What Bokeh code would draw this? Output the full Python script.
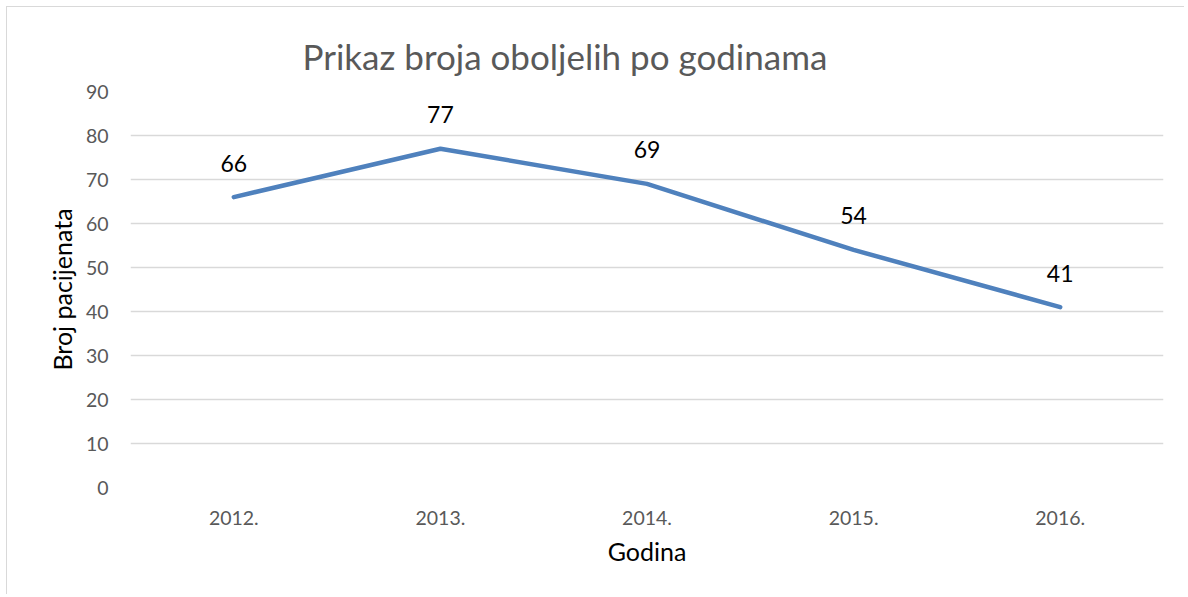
from bokeh.plotting import figure
from bokeh.models import ColumnDataSource, Title
from bokeh.embed import file_html
from bokeh.resources import INLINE
from bokeh.core.properties import value

years = ["2012.", "2013.", "2014.", "2015.", "2016."]
patients = [66, 77, 69, 54, 41]
title_text = "Prikaz broja oboljelih po godinama"
x_title = "Godina"
y_title = "Broj pacijenata"

FONT = "Lato"
W, H = 1178, 588

src = ColumnDataSource(dict(x=years, y=patients, lbl=[str(v) for v in patients]))

p = figure(x_range=years, y_range=(0, 90), width=W, height=H,
           output_backend="svg", toolbar_location=None,
           min_border_left=123, min_border_right=22, min_border_top=84, min_border_bottom=108)
p.styles = {"margin-left": "6px", "margin-top": "6px",
            "border-left": "1px solid #d9d9d9", "border-top": "1px solid #d9d9d9"}
p.outline_line_color = None
p.background_fill_color = "white"
p.border_fill_color = "white"

p.line("x", "y", source=src, line_color="#4F81BD", line_width=4.5, line_join="round", line_cap="round")
p.text("x", "y", text="lbl", source=src, text_font=value(FONT), text_font_size="23px",
       text_color="black", text_align="center", text_baseline="alphabetic", y_offset=-34)

p.yaxis.ticker = list(range(0, 91, 10))
p.ygrid.ticker = list(range(0, 91, 10))
p.xgrid.grid_line_color = None
p.ygrid.grid_line_color = "#d9d9d9"
p.ygrid.grid_line_width = 1.5

for ax in (p.xaxis, p.yaxis):
    ax.axis_line_color = None
    ax.major_tick_line_color = None
    ax.minor_tick_line_color = None
    ax.major_tick_out = 0
    ax.major_tick_in = 0
    ax.major_label_text_font = FONT
    ax.major_label_text_font_size = "19.5px"
    ax.major_label_text_color = "#595959"
    ax.axis_label_text_font = FONT
    ax.axis_label_text_font_size = "25px"
    ax.axis_label_text_color = "black"
    ax.axis_label_text_font_style = "normal"

p.yaxis.major_label_standoff = 22
p.xaxis.major_label_standoff = 23
p.yaxis.axis_label = y_title
p.xaxis.axis_label = x_title
p.yaxis.axis_label_standoff = 6
p.xaxis.axis_label_standoff = 8

p.add_layout(Title(text=title_text, align="left", offset=172, standoff=29,
                   text_font=FONT, text_font_size="35px", text_color="#595959",
                   text_font_style="normal"), "above")

open("out.html", "w").write(file_html(p, INLINE))
